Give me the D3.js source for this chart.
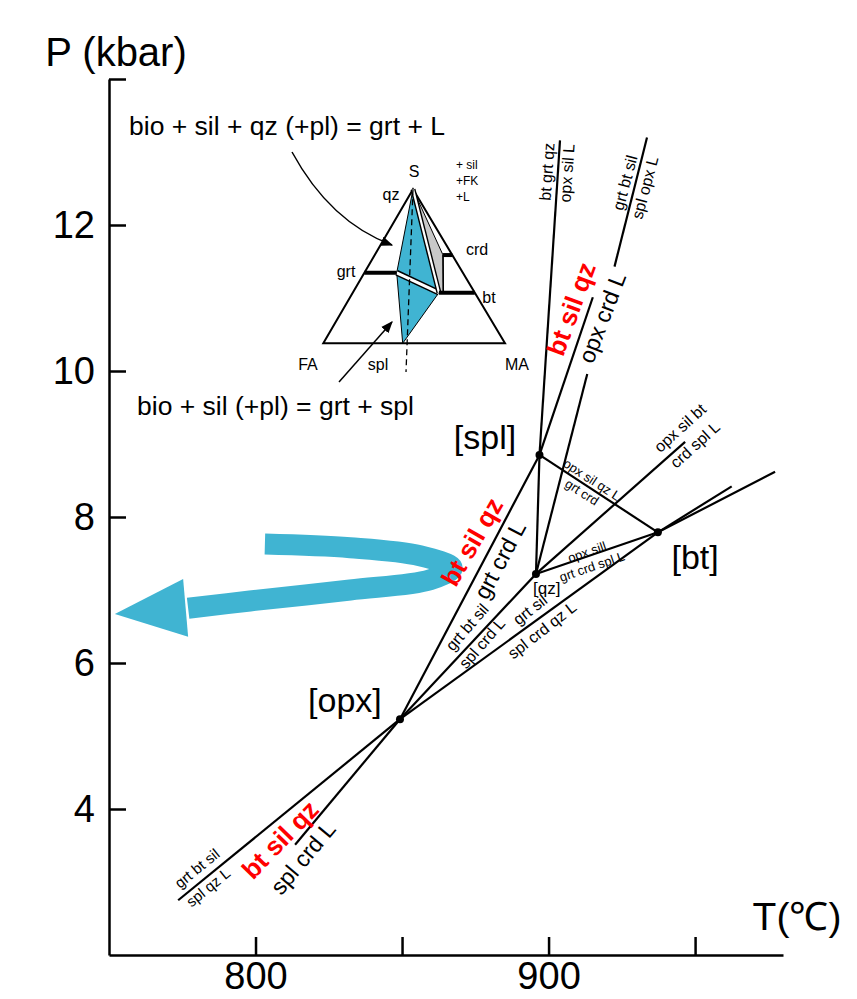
<!DOCTYPE html>
<html>
<head>
<meta charset="utf-8">
<script src="https://cdn.jsdelivr.net/npm/d3@7"></script>
<style>
  body { margin: 0; background: #fff; }
  text { font-family: "Liberation Sans", Arial, sans-serif; }
</style>
</head>
<body>
<div id="chart-area"></div>
<script>
// P-T grid with invariant points, reaction lines and an inset ternary

const W = 857, H = 999

// AXES DATA
const tDomain = [750, 980]
const pDomain = [2, 14]
const tTicks = [800, 850, 900, 950]
const tTickLabels = [800, 900]
const pTicks = [4, 6, 8, 10, 12, 14]
const pTickLabels = [4, 6, 8, 10, 12]

// invariant points [T, P]
const invariantNames = ["[opx]", "[spl]", "[qz]", "[bt]"]
const invariantT = [849.3, 896.9, 895.7, 937.3]
const invariantP = [5.23, 8.85, 7.22, 7.79]

// reaction line segments [[T1, P1], [T2, P2]]
const segments = [
  [[849.3, 5.23], [896.9, 8.85]],   // [opx] - [spl]
  [[896.9, 8.85], [903.9, 13.16]],  // [spl] up
  [[895.7, 7.22], [896.9, 8.85]],   // [qz] - [spl]
  [[896.9, 8.85], [915.1, 11.01]],  // [spl] - opx crd L
  [[895.7, 7.22], [913.2, 9.96]],   // [qz] up, lower piece
  [[922.5, 11.43], [933.6, 13.20]], // [qz] up, upper piece
  [[896.9, 8.85], [937.3, 7.79]],   // [spl] - [bt]
  [[895.7, 7.22], [937.3, 7.79]],   // [qz] - [bt]
  [[895.7, 7.22], [946.6, 9.03]],   // [qz] - opx sil bt
  [[937.3, 7.79], [977.3, 8.62]],
  [[937.3, 7.79], [962.5, 8.42]],
  [[849.3, 5.23], [937.3, 7.79]],   // [opx] - [bt]
  [[849.3, 5.23], [895.7, 7.22]],   // [opx] - [qz]
  [[849.3, 5.23], [773.6, 2.75]],
  [[849.3, 5.23], [813.5, 3.51]]
]

// reaction labels: text, T, P, angle, kind
const labels = [
  ["bt grt qz", 899.5, 12.73, -86, "mid"],
  ["opx sil L", 906.3, 12.71, -86, "mid"],
  ["grt bt sil", 926.1, 12.58, -75, "mid"],
  ["spl opx L", 932.9, 12.51, -75, "mid"],
  ["bt sil qz", 907.7, 10.85, -70, "red"],
  ["opx crd L", 918.3, 10.73, -69, "big"],
  ["bt sil qz", 873.9, 7.66, -60, "red"],
  ["grt crd L", 883.4, 7.41, -62, "big"],
  ["opx sil qz L", 914.8, 8.51, 33, "small"],
  ["grt crd", 911.4, 8.34, 33, "small"],
  ["opx sill", 913.1, 7.52, -19, "small"],
  ["grt crd spl L", 914.8, 7.32, -19, "small"],
  ["opx sil bt", 944.9, 9.22, -42, "mid"],
  ["crd spl L", 950.0, 8.99, -42, "mid"],
  ["grt bt sil", 872.2, 6.49, -49, "mid"],
  ["spl crd L", 877.3, 6.27, -49, "mid"],
  ["grt sil", 893.7, 6.73, -38, "mid"],
  ["spl crd qz L", 897.8, 6.45, -38, "mid"],
  ["grt bt sil", 780.0, 3.19, -39, "low"],
  ["spl qz L", 783.8, 2.93, -39, "low"],
  ["bt sil qz", 808.4, 3.58, -46, "red"],
  ["spl crd L", 816.2, 3.33, -50, "big"]
]

const invLabelT = [830.5, 878.3, 899.4, 950.0]
const invLabelP = [5.49, 9.10, 7.02, 7.45]

// P-T path (blue arrow) centre line and head, [T, P]
const pathTP = [[803.2, 7.63], [832.3, 7.58], [856.1, 7.47], [867.1, 7.30],
                [859.6, 7.14], [832.3, 7.00], [798.1, 6.85], [777.0, 6.75]]
const headTP = [[752.0, 6.67], [775.3, 7.15], [777.0, 6.36]]

// inset ternary FA - MA - S, phases as [MA fraction, S fraction]
const phases = {
  qz: [0, 1], grtL: [0, 0.458], grtR: [0.178, 0.458],
  btL: [0.474, 0.329], btR: [0.671, 0.329],
  crdL: [0.376, 0.573], crdR: [0.427, 0.573], crdB: [0.498, 0.329],
  spl: [0.437, 0], dashEnd: [0.547, -0.186]
}

// STYLES
const blue = "#40b4d2"
const kindStyle = {
  red:   { size: 26, fill: "#ff0000", weight: "bold" },
  big:   { size: 23, fill: "#000", weight: "normal" },
  mid:   { size: 16, fill: "#000", weight: "normal" },
  low:   { size: 15, fill: "#000", weight: "normal" },
  small: { size: 13, fill: "#000", weight: "normal" }
}

const svg = d3.select("#chart-area").append("svg")
  .attr("width", W).attr("height", H)

const x = d3.scaleLinear().domain(tDomain).range([109, 783])
const y = d3.scaleLinear().domain(pDomain).range([955, 79])

// AXES
const yAxis = d3.axisLeft(y).tickValues(pTicks)
  .tickSizeInner(-17).tickSizeOuter(0).tickPadding(14)
  .tickFormat(d => pTickLabels.includes(d) ? d : "")
const gy = svg.append("g").attr("transform", "translate(109,0)").call(yAxis)

const xAxis = d3.axisBottom(x).tickValues(tTicks)
  .tickSizeInner(-18).tickSizeOuter(0).tickPadding(7)
  .tickFormat(d => tTickLabels.includes(d) ? d : "")
const gx = svg.append("g").attr("transform", "translate(0,955)").call(xAxis)

svg.selectAll(".domain, .tick line").attr("stroke-width", 2.5)
gy.selectAll("text").attr("font-size", 38).attr("font-family", "Liberation Sans, Arial")
gx.selectAll("text").attr("font-size", 38).attr("font-family", "Liberation Sans, Arial")

svg.append("text").attr("x", 116).attr("y", 66).attr("text-anchor", "middle")
  .attr("font-size", 40).text("P (kbar)")
svg.append("text").attr("x", 797).attr("y", 930).attr("text-anchor", "middle")
  .attr("font-size", 39).text("T(℃)")

// REACTION LINES
svg.append("g").selectAll("line").data(segments).enter().append("line")
  .attr("x1", d => x(d[0][0])).attr("y1", d => y(d[0][1]))
  .attr("x2", d => x(d[1][0])).attr("y2", d => y(d[1][1]))
  .attr("stroke", "#000").attr("stroke-width", 2.2)

// invariant points
svg.append("g").selectAll("circle").data(invariantNames).enter().append("circle")
  .attr("cx", (d, i) => x(invariantT[i])).attr("cy", (d, i) => y(invariantP[i]))
  .attr("r", 4).attr("fill", "#000")

svg.append("g").selectAll("text").data(invariantNames).enter().append("text")
  .attr("x", (d, i) => x(invLabelT[i])).attr("y", (d, i) => y(invLabelP[i]))
  .attr("text-anchor", "middle").attr("dominant-baseline", "central")
  .attr("font-size", d => d === "[qz]" ? 17 : 34)
  .text(d => d)

// P-T path arrow
const line = d3.line().x(d => x(d[0])).y(d => y(d[1])).curve(d3.curveCatmullRom.alpha(0.5))
svg.append("path").attr("d", line(pathTP))
  .attr("fill", "none").attr("stroke", blue).attr("stroke-width", 21)
svg.append("path").attr("d", "M" + headTP.map(d => x(d[0]) + "," + y(d[1])).join("L") + "Z")
  .attr("fill", blue)

// reaction labels (drawn over the arrow)
svg.append("g").selectAll("text").data(labels).enter().append("text")
  .attr("transform", d => "translate(" + x(d[1]) + "," + y(d[2]) + ") rotate(" + d[3] + ")")
  .attr("text-anchor", "middle").attr("dominant-baseline", "central")
  .attr("font-size", d => kindStyle[d[4]].size)
  .attr("font-weight", d => kindStyle[d[4]].weight)
  .attr("fill", d => kindStyle[d[4]].fill)
  .text(d => d[0])

// INSET TERNARY
const inset = { x0: 323.3, y0: 343.3, w: 181.7, sx: 89.7, h: 154 }
const tern = p => [inset.x0 + p[0] * inset.w + p[1] * inset.sx, inset.y0 - p[1] * inset.h]
const pt = k => tern(phases[k])
const poly = ks => "M" + ks.map(k => pt(k).join(",")).join("L") + "Z"
const ins = svg.append("g")

ins.append("path").attr("d", "M" + [tern([0, 0]), tern([1, 0]), tern([0, 1])].map(p => p.join(",")).join("L") + "Z")
  .attr("fill", "#fff").attr("stroke", "#000").attr("stroke-width", 2)
ins.append("path").attr("d", poly(["qz", "crdL", "crdB", "btL"]))
  .attr("fill", "#c8c8c8").attr("stroke", "#000").attr("stroke-width", 1)
ins.append("path").attr("d", poly(["qz", "grtR", "btL"]))
  .attr("fill", blue).attr("stroke", "#000").attr("stroke-width", 1)
ins.append("path").attr("d", poly(["grtR", "btL", "spl"]))
  .attr("fill", blue).attr("stroke", "#000").attr("stroke-width", 1)

const seg = (a, b, w, c) => ins.append("line")
  .attr("x1", pt(a)[0]).attr("y1", pt(a)[1]).attr("x2", pt(b)[0]).attr("y2", pt(b)[1])
  .attr("stroke", c).attr("stroke-width", w)
seg("grtR", "btL", 6, "#000"); seg("grtR", "btL", 3, "#fff")
seg("qz", "btL", 5, "#000"); seg("qz", "btL", 2.2, "#fff")
seg("crdL", "crdB", 1.5, "#000")
seg("grtL", "grtR", 4, "#000")
seg("btL", "btR", 4, "#000")
seg("crdL", "crdR", 4, "#000")
seg("qz", "dashEnd", 1.3, "#000").attr("stroke-dasharray", "6,4")

const insetText = [
  ["S", 414, 171, 16], ["qz", 391, 194, 16], ["grt", 346, 271, 16], ["crd", 477, 249, 16],
  ["bt", 489, 297, 16], ["FA", 308, 364, 16], ["spl", 378, 364, 16], ["MA", 517, 364, 16]
]
ins.selectAll(".lab").data(insetText).enter().append("text")
  .attr("x", d => d[1]).attr("y", d => d[2]).attr("font-size", d => d[3])
  .attr("text-anchor", "middle").attr("dominant-baseline", "central").text(d => d[0])
;[["+ sil", 165], ["+FK", 181], ["+L", 197]].forEach(d => {
  ins.append("text").attr("x", 456).attr("y", d[1]).attr("font-size", 12)
    .attr("dominant-baseline", "central").text(d[0])
})

// annotations with arrows
svg.append("defs").append("marker").attr("id", "ah")
  .attr("viewBox", "0 0 10 10").attr("refX", 9).attr("refY", 5)
  .attr("markerWidth", 8).attr("markerHeight", 8).attr("orient", "auto")
  .append("path").attr("d", "M0,1 L10,5 L0,9 Z").attr("fill", "#000")

svg.append("text").attr("x", 129).attr("y", 135).attr("font-size", 26.5)
  .text("bio + sil + qz (+pl) = grt + L")
svg.append("text").attr("x", 137).attr("y", 415).attr("font-size", 26.5)
  .text("bio + sil (+pl) = grt + spl")
svg.append("path").attr("d", "M292,152 Q330,222 392,245")
  .attr("fill", "none").attr("stroke", "#000").attr("stroke-width", 1.5).attr("marker-end", "url(#ah)")
svg.append("path").attr("d", "M339,382 L392,322")
  .attr("fill", "none").attr("stroke", "#000").attr("stroke-width", 1.5).attr("marker-end", "url(#ah)")
</script>
</body>
</html>
